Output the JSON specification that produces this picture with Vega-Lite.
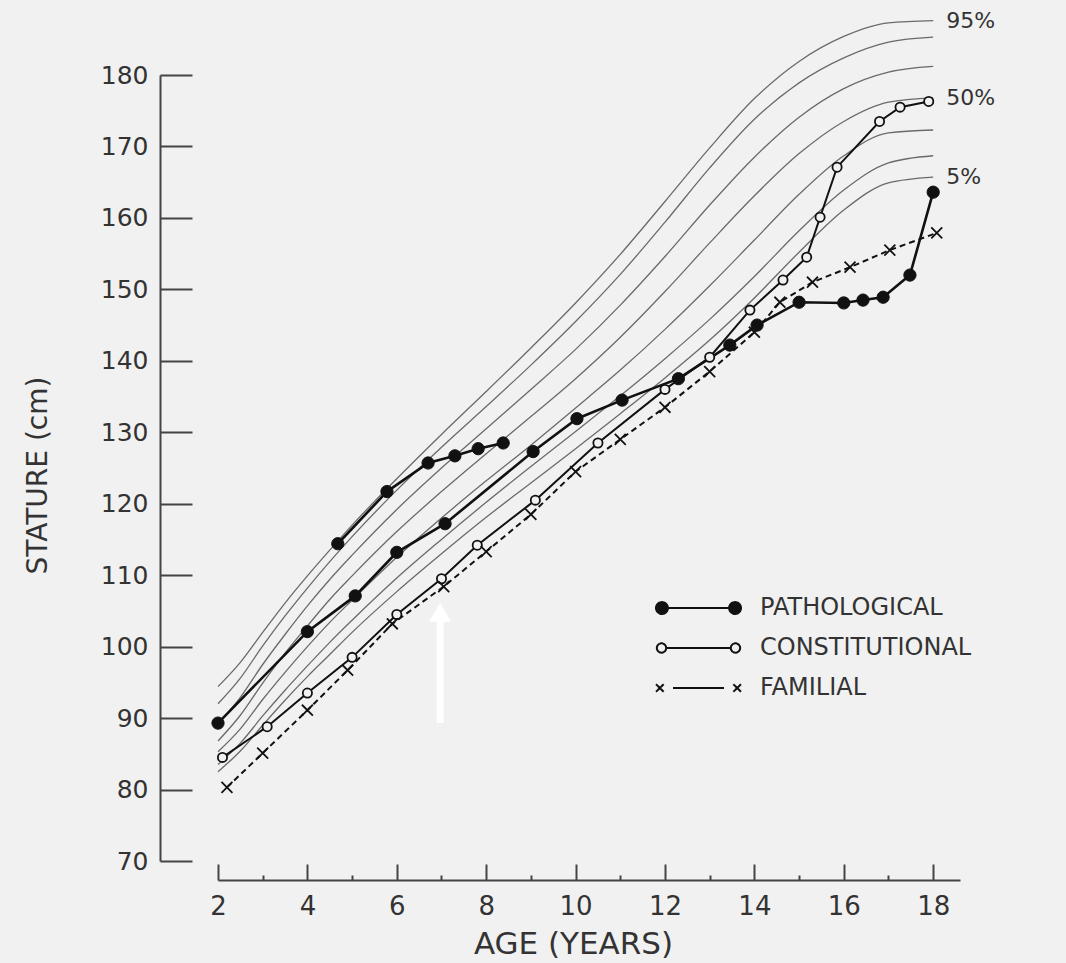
{
  "$schema": "https://vega.github.io/schema/vega-lite/v6.json",
  "width": 742,
  "height": 786,
  "autosize": "none",
  "padding": {"left": 218, "top": 75, "right": 106, "bottom": 102},
  "background": "#f1f1f1",
  "config": {
    "view": {"stroke": null},
    "font": "DejaVu Sans"
  },
  "datasets": {
    "pct": [
      {"pct": "95%", "age": 2, "cm": 94.4}, {"pct": "95%", "age": 2.5, "cm": 97.8}, {"pct": "95%", "age": 3, "cm": 102.0}, {"pct": "95%", "age": 3.5, "cm": 106.1}, {"pct": "95%", "age": 4, "cm": 109.9}, {"pct": "95%", "age": 4.5, "cm": 113.5}, {"pct": "95%", "age": 5, "cm": 117.0}, {"pct": "95%", "age": 6, "cm": 123.5}, {"pct": "95%", "age": 7, "cm": 129.7}, {"pct": "95%", "age": 8, "cm": 135.7}, {"pct": "95%", "age": 9, "cm": 141.8}, {"pct": "95%", "age": 10, "cm": 148.1}, {"pct": "95%", "age": 11, "cm": 154.9}, {"pct": "95%", "age": 12, "cm": 162.3}, {"pct": "95%", "age": 13, "cm": 169.8}, {"pct": "95%", "age": 14, "cm": 176.7}, {"pct": "95%", "age": 15, "cm": 181.9}, {"pct": "95%", "age": 16, "cm": 185.4}, {"pct": "95%", "age": 17, "cm": 187.3}, {"pct": "95%", "age": 18, "cm": 187.6},
      {"pct": "90%", "age": 2, "cm": 92.0}, {"pct": "90%", "age": 2.5, "cm": 95.6}, {"pct": "90%", "age": 3, "cm": 100.1}, {"pct": "90%", "age": 3.5, "cm": 104.3}, {"pct": "90%", "age": 4, "cm": 108.2}, {"pct": "90%", "age": 4.5, "cm": 111.9}, {"pct": "90%", "age": 5, "cm": 115.4}, {"pct": "90%", "age": 6, "cm": 121.9}, {"pct": "90%", "age": 7, "cm": 127.9}, {"pct": "90%", "age": 8, "cm": 133.6}, {"pct": "90%", "age": 9, "cm": 139.4}, {"pct": "90%", "age": 10, "cm": 145.5}, {"pct": "90%", "age": 11, "cm": 152.1}, {"pct": "90%", "age": 12, "cm": 159.4}, {"pct": "90%", "age": 13, "cm": 167.0}, {"pct": "90%", "age": 14, "cm": 173.8}, {"pct": "90%", "age": 15, "cm": 178.9}, {"pct": "90%", "age": 16, "cm": 182.4}, {"pct": "90%", "age": 17, "cm": 184.6}, {"pct": "90%", "age": 18, "cm": 185.3},
      {"pct": "75%", "age": 2, "cm": 89.2}, {"pct": "75%", "age": 2.5, "cm": 92.9}, {"pct": "75%", "age": 3, "cm": 97.5}, {"pct": "75%", "age": 3.5, "cm": 101.7}, {"pct": "75%", "age": 4, "cm": 105.7}, {"pct": "75%", "age": 4.5, "cm": 109.4}, {"pct": "75%", "age": 5, "cm": 112.8}, {"pct": "75%", "age": 6, "cm": 119.2}, {"pct": "75%", "age": 7, "cm": 125.0}, {"pct": "75%", "age": 8, "cm": 130.5}, {"pct": "75%", "age": 9, "cm": 136.0}, {"pct": "75%", "age": 10, "cm": 141.6}, {"pct": "75%", "age": 11, "cm": 147.8}, {"pct": "75%", "age": 12, "cm": 154.6}, {"pct": "75%", "age": 13, "cm": 161.8}, {"pct": "75%", "age": 14, "cm": 168.5}, {"pct": "75%", "age": 15, "cm": 174.1}, {"pct": "75%", "age": 16, "cm": 178.1}, {"pct": "75%", "age": 17, "cm": 180.4}, {"pct": "75%", "age": 18, "cm": 181.2},
      {"pct": "50%", "age": 2, "cm": 86.8}, {"pct": "50%", "age": 2.5, "cm": 90.4}, {"pct": "50%", "age": 3, "cm": 94.9}, {"pct": "50%", "age": 3.5, "cm": 99.1}, {"pct": "50%", "age": 4, "cm": 102.9}, {"pct": "50%", "age": 4.5, "cm": 106.6}, {"pct": "50%", "age": 5, "cm": 109.9}, {"pct": "50%", "age": 6, "cm": 116.1}, {"pct": "50%", "age": 7, "cm": 121.7}, {"pct": "50%", "age": 8, "cm": 127.0}, {"pct": "50%", "age": 9, "cm": 132.2}, {"pct": "50%", "age": 10, "cm": 137.5}, {"pct": "50%", "age": 11, "cm": 143.3}, {"pct": "50%", "age": 12, "cm": 149.7}, {"pct": "50%", "age": 13, "cm": 156.5}, {"pct": "50%", "age": 14, "cm": 163.1}, {"pct": "50%", "age": 15, "cm": 169.0}, {"pct": "50%", "age": 16, "cm": 173.5}, {"pct": "50%", "age": 17, "cm": 176.2}, {"pct": "50%", "age": 18, "cm": 176.8},
      {"pct": "25%", "age": 2, "cm": 85.3}, {"pct": "25%", "age": 2.5, "cm": 88.5}, {"pct": "25%", "age": 3, "cm": 92.6}, {"pct": "25%", "age": 3.5, "cm": 96.4}, {"pct": "25%", "age": 4, "cm": 100.0}, {"pct": "25%", "age": 4.5, "cm": 103.4}, {"pct": "25%", "age": 5, "cm": 106.5}, {"pct": "25%", "age": 6, "cm": 112.5}, {"pct": "25%", "age": 7, "cm": 118.0}, {"pct": "25%", "age": 8, "cm": 123.2}, {"pct": "25%", "age": 9, "cm": 128.2}, {"pct": "25%", "age": 10, "cm": 133.4}, {"pct": "25%", "age": 11, "cm": 138.7}, {"pct": "25%", "age": 12, "cm": 144.4}, {"pct": "25%", "age": 13, "cm": 150.5}, {"pct": "25%", "age": 14, "cm": 156.9}, {"pct": "25%", "age": 15, "cm": 163.3}, {"pct": "25%", "age": 16, "cm": 168.7}, {"pct": "25%", "age": 17, "cm": 171.9}, {"pct": "25%", "age": 18, "cm": 172.3},
      {"pct": "10%", "age": 2, "cm": 83.5}, {"pct": "10%", "age": 2.5, "cm": 86.5}, {"pct": "10%", "age": 3, "cm": 90.3}, {"pct": "10%", "age": 3.5, "cm": 93.9}, {"pct": "10%", "age": 4, "cm": 97.3}, {"pct": "10%", "age": 4.5, "cm": 100.6}, {"pct": "10%", "age": 5, "cm": 103.7}, {"pct": "10%", "age": 6, "cm": 109.6}, {"pct": "10%", "age": 7, "cm": 115.0}, {"pct": "10%", "age": 8, "cm": 120.2}, {"pct": "10%", "age": 9, "cm": 125.2}, {"pct": "10%", "age": 10, "cm": 130.1}, {"pct": "10%", "age": 11, "cm": 135.1}, {"pct": "10%", "age": 12, "cm": 140.3}, {"pct": "10%", "age": 13, "cm": 145.8}, {"pct": "10%", "age": 14, "cm": 151.8}, {"pct": "10%", "age": 15, "cm": 158.2}, {"pct": "10%", "age": 16, "cm": 163.9}, {"pct": "10%", "age": 17, "cm": 167.7}, {"pct": "10%", "age": 18, "cm": 168.7},
      {"pct": "5%", "age": 2, "cm": 82.5}, {"pct": "5%", "age": 2.5, "cm": 85.4}, {"pct": "5%", "age": 3, "cm": 89.0}, {"pct": "5%", "age": 3.5, "cm": 92.5}, {"pct": "5%", "age": 4, "cm": 95.8}, {"pct": "5%", "age": 4.5, "cm": 98.9}, {"pct": "5%", "age": 5, "cm": 102.0}, {"pct": "5%", "age": 6, "cm": 107.7}, {"pct": "5%", "age": 7, "cm": 113.0}, {"pct": "5%", "age": 8, "cm": 118.1}, {"pct": "5%", "age": 9, "cm": 122.9}, {"pct": "5%", "age": 10, "cm": 127.7}, {"pct": "5%", "age": 11, "cm": 132.6}, {"pct": "5%", "age": 12, "cm": 137.6}, {"pct": "5%", "age": 13, "cm": 142.9}, {"pct": "5%", "age": 14, "cm": 148.8}, {"pct": "5%", "age": 15, "cm": 155.2}, {"pct": "5%", "age": 16, "cm": 161.1}, {"pct": "5%", "age": 17, "cm": 164.9}, {"pct": "5%", "age": 18, "cm": 165.7}
    ],
    "patients": [
      {"group": "PATHOLOGICAL", "patient": "P2", "age": 2.0, "cm": 89.3},
      {"group": "PATHOLOGICAL", "patient": "P2", "age": 4.0, "cm": 102.1},
      {"group": "PATHOLOGICAL", "patient": "P2", "age": 5.07, "cm": 107.1},
      {"group": "PATHOLOGICAL", "patient": "P2", "age": 6.0, "cm": 113.2},
      {"group": "PATHOLOGICAL", "patient": "P2", "age": 7.08, "cm": 117.2},
      {"group": "PATHOLOGICAL", "patient": "P2", "age": 9.05, "cm": 127.3},
      {"group": "PATHOLOGICAL", "patient": "P2", "age": 10.03, "cm": 131.9},
      {"group": "PATHOLOGICAL", "patient": "P2", "age": 11.04, "cm": 134.5},
      {"group": "PATHOLOGICAL", "patient": "P2", "age": 12.3, "cm": 137.5},
      {"group": "PATHOLOGICAL", "patient": "P2", "age": 13.45, "cm": 142.2},
      {"group": "PATHOLOGICAL", "patient": "P2", "age": 14.06, "cm": 145.0},
      {"group": "PATHOLOGICAL", "patient": "P2", "age": 15.0, "cm": 148.2},
      {"group": "PATHOLOGICAL", "patient": "P2", "age": 16.0, "cm": 148.1},
      {"group": "PATHOLOGICAL", "patient": "P2", "age": 16.43, "cm": 148.5},
      {"group": "PATHOLOGICAL", "patient": "P2", "age": 16.88, "cm": 148.9},
      {"group": "PATHOLOGICAL", "patient": "P2", "age": 17.48, "cm": 152.0},
      {"group": "PATHOLOGICAL", "patient": "P2", "age": 18.0, "cm": 163.6},
      {"group": "PATHOLOGICAL", "patient": "P1", "age": 4.68, "cm": 114.4},
      {"group": "PATHOLOGICAL", "patient": "P1", "age": 5.78, "cm": 121.7},
      {"group": "PATHOLOGICAL", "patient": "P1", "age": 6.7, "cm": 125.7},
      {"group": "PATHOLOGICAL", "patient": "P1", "age": 7.3, "cm": 126.7},
      {"group": "PATHOLOGICAL", "patient": "P1", "age": 7.82, "cm": 127.7},
      {"group": "PATHOLOGICAL", "patient": "P1", "age": 8.38, "cm": 128.5},
      {"group": "CONSTITUTIONAL", "patient": "C", "age": 2.1, "cm": 84.5},
      {"group": "CONSTITUTIONAL", "patient": "C", "age": 3.1, "cm": 88.8},
      {"group": "CONSTITUTIONAL", "patient": "C", "age": 4.0, "cm": 93.5},
      {"group": "CONSTITUTIONAL", "patient": "C", "age": 5.0, "cm": 98.5},
      {"group": "CONSTITUTIONAL", "patient": "C", "age": 6.0, "cm": 104.5},
      {"group": "CONSTITUTIONAL", "patient": "C", "age": 7.0, "cm": 109.5},
      {"group": "CONSTITUTIONAL", "patient": "C", "age": 7.8, "cm": 114.2},
      {"group": "CONSTITUTIONAL", "patient": "C", "age": 9.1, "cm": 120.5},
      {"group": "CONSTITUTIONAL", "patient": "C", "age": 10.5, "cm": 128.5},
      {"group": "CONSTITUTIONAL", "patient": "C", "age": 12.0, "cm": 136.0},
      {"group": "CONSTITUTIONAL", "patient": "C", "age": 13.0, "cm": 140.5},
      {"group": "CONSTITUTIONAL", "patient": "C", "age": 13.9, "cm": 147.1},
      {"group": "CONSTITUTIONAL", "patient": "C", "age": 14.64, "cm": 151.3},
      {"group": "CONSTITUTIONAL", "patient": "C", "age": 15.17, "cm": 154.5},
      {"group": "CONSTITUTIONAL", "patient": "C", "age": 15.47, "cm": 160.1},
      {"group": "CONSTITUTIONAL", "patient": "C", "age": 15.85, "cm": 167.1},
      {"group": "CONSTITUTIONAL", "patient": "C", "age": 16.8, "cm": 173.5},
      {"group": "CONSTITUTIONAL", "patient": "C", "age": 17.26, "cm": 175.5},
      {"group": "CONSTITUTIONAL", "patient": "C", "age": 17.9, "cm": 176.3},
      {"group": "FAMILIAL", "patient": "F", "age": 2.2, "cm": 80.3},
      {"group": "FAMILIAL", "patient": "F", "age": 3.0, "cm": 85.1},
      {"group": "FAMILIAL", "patient": "F", "age": 4.0, "cm": 91.1},
      {"group": "FAMILIAL", "patient": "F", "age": 4.9, "cm": 96.7},
      {"group": "FAMILIAL", "patient": "F", "age": 5.9, "cm": 103.2},
      {"group": "FAMILIAL", "patient": "F", "age": 7.05, "cm": 108.4},
      {"group": "FAMILIAL", "patient": "F", "age": 8.0, "cm": 113.3},
      {"group": "FAMILIAL", "patient": "F", "age": 9.0, "cm": 118.5},
      {"group": "FAMILIAL", "patient": "F", "age": 10.0, "cm": 124.5},
      {"group": "FAMILIAL", "patient": "F", "age": 11.0, "cm": 129.0},
      {"group": "FAMILIAL", "patient": "F", "age": 12.0, "cm": 133.5},
      {"group": "FAMILIAL", "patient": "F", "age": 13.0, "cm": 138.5},
      {"group": "FAMILIAL", "patient": "F", "age": 14.0, "cm": 144.0},
      {"group": "FAMILIAL", "patient": "F", "age": 14.57, "cm": 148.2},
      {"group": "FAMILIAL", "patient": "F", "age": 15.3, "cm": 151.0},
      {"group": "FAMILIAL", "patient": "F", "age": 16.14, "cm": 153.1},
      {"group": "FAMILIAL", "patient": "F", "age": 17.03, "cm": 155.5},
      {"group": "FAMILIAL", "patient": "F", "age": 18.08, "cm": 157.9}
    ],
    "arrow": [
      {"age": 6.97, "cm": 89.3, "cm2": 104.0, "tip": 104.8}
    ]
  },
  "encoding": {
    "x": {
      "field": "age", "type": "quantitative",
      "scale": {"domain": [2, 18.6], "nice": false, "zero": false},
      "axis": {
        "offset": 19,
        "values": [2, 3, 4, 5, 6, 7, 8, 9, 10, 11, 12, 13, 14, 15, 16, 17, 18],
        "labelExpr": "datum.value % 2 === 0 ? datum.label : ''",
        "labelFlush": false,
        "grid": false,
        "tickSize": {"condition": {"test": "datum.value % 2 === 1", "value": -5}, "value": -16},
        "tickWidth": 2, "tickColor": "#444",
        "domainColor": "#444", "domainWidth": 2,
        "labelFontSize": 26, "labelColor": "#333", "labelPadding": 29, "labelFont": "DejaVu Sans",
        "title": "AGE (YEARS)", "titleFontSize": 31, "titleFontWeight": "normal", "titleColor": "#333",
        "titleX": 355, "titleY": 64, "titleAnchor": "middle", "titleAlign": "center", "titleBaseline": "middle"
      }
    },
    "y": {
      "field": "cm", "type": "quantitative",
      "scale": {"domain": [70, 180], "nice": false, "zero": false},
      "axis": {
        "offset": 58,
        "values": [70, 80, 90, 100, 110, 120, 130, 140, 150, 160, 170, 180],
        "labelFlush": false,
        "grid": false,
        "tickSize": -32, "tickWidth": 2, "tickColor": "#444",
        "domainColor": "#444", "domainWidth": 2,
        "labelFontSize": 25, "labelColor": "#333", "labelPadding": 44, "labelFont": "DejaVu Sans",
        "title": "STATURE (cm)", "titleFontSize": 28, "titleFontWeight": "normal", "titleColor": "#333",
        "titleX": -122, "titleY": 400, "titleAngle": -90, "titleAlign": "center", "titleBaseline": "middle"
      }
    }
  },
  "layer": [
    {
      "data": {"name": "pct"},
      "mark": {"type": "line", "interpolate": "monotone", "stroke": "#6a6a6a", "strokeWidth": 1.3},
      "encoding": {"detail": {"field": "pct"}}
    },
    {
      "data": {"name": "pct"},
      "transform": [{"filter": "datum.age === 18 && (datum.pct === '95%' || datum.pct === '50%' || datum.pct === '5%')"}],
      "mark": {"type": "text", "align": "left", "baseline": "middle", "dx": 13, "fontSize": 22, "color": "#333", "font": "DejaVu Sans"},
      "encoding": {"text": {"field": "pct"}}
    },
    {
      "data": {"name": "patients"},
      "transform": [{"filter": "datum.group === 'PATHOLOGICAL'"}],
      "mark": {"type": "line", "strokeWidth": 2.6},
      "encoding": {
        "detail": {"field": "patient"},
        "color": {
          "field": "group", "type": "nominal",
          "scale": {"domain": ["PATHOLOGICAL", "CONSTITUTIONAL", "FAMILIAL"], "range": ["#111", "#111", "#111"]},
          "legend": {
            "orient": "none", "legendX": 437, "legendY": 513,
            "title": null, "padding": 0,
            "symbolSize": 7225, "symbolStrokeWidth": 2,
            "labelFontSize": 24, "labelColor": "#333", "labelFont": "DejaVu Sans", "labelOffset": 18, "labelLimit": 500,
            "clipHeight": 40,
            "rowPadding": 0,
            "encode": {
              "symbols": {
                "update": {
                  "shape": {"signal": "datum.value === 'PATHOLOGICAL' ? 'M-0.86,0L0.86,0M-0.72,0A0.14,0.14 0 1,1 -1,0A0.14,0.14 0 1,1 -0.72,0ZM1,0A0.14,0.14 0 1,1 0.72,0A0.14,0.14 0 1,1 1,0Z' : datum.value === 'CONSTITUTIONAL' ? 'M-0.76,0L0.76,0M-0.76,0A0.11,0.11 0 1,1 -0.98,0A0.11,0.11 0 1,1 -0.76,0ZM0.98,0A0.11,0.11 0 1,1 0.76,0A0.11,0.11 0 1,1 0.98,0Z' : 'M-1,-0.09L-0.82,0.09M-1,0.09L-0.82,-0.09M-0.6,0L0.6,0M0.82,-0.09L1,0.09M0.82,0.09L1,-0.09'"},
                  "size": {"value": 7225},
                  "fill": {"signal": "datum.value === 'PATHOLOGICAL' ? '#111' : datum.value === 'CONSTITUTIONAL' ? '#f1f1f1' : 'transparent'"},
                  "stroke": {"value": "#111"},
                  "strokeDash": {"value": [1, 0]},
                  "strokeWidth": {"value": 2},
                  "opacity": {"value": 1}
                }
              }
            }
          }
        }
      }
    },
    {
      "data": {"name": "patients"},
      "transform": [{"filter": "datum.group === 'CONSTITUTIONAL'"}],
      "mark": {"type": "line", "stroke": "#111", "strokeWidth": 2},
      "encoding": {}
    },
    {
      "data": {"name": "patients"},
      "transform": [{"filter": "datum.group === 'FAMILIAL'"}],
      "mark": {"type": "line", "stroke": "#111", "strokeWidth": 2, "strokeDash": [6, 4]},
      "encoding": {}
    },
    {
      "data": {"name": "patients"},
      "transform": [{"filter": "datum.group === 'PATHOLOGICAL'"}],
      "mark": {"type": "point", "shape": "circle", "filled": true, "fill": "#111", "stroke": "#111", "strokeWidth": 1, "opacity": 1, "size": 150},
      "encoding": {}
    },
    {
      "data": {"name": "patients"},
      "transform": [{"filter": "datum.group === 'CONSTITUTIONAL'"}],
      "mark": {"type": "point", "shape": "circle", "filled": false, "fill": "#f1f1f1", "stroke": "#111", "strokeWidth": 1.8, "opacity": 1, "size": 85},
      "encoding": {}
    },
    {
      "data": {"name": "patients"},
      "transform": [{"filter": "datum.group === 'FAMILIAL'"}],
      "mark": {"type": "point", "shape": "M-1,-1L1,1M-1,1L1,-1", "filled": false, "stroke": "#111", "strokeWidth": 1.8, "opacity": 1, "size": 120},
      "encoding": {}
    },
    {
      "data": {"name": "arrow"},
      "mark": {"type": "rule", "stroke": "#ffffff", "strokeWidth": 7},
      "encoding": {"y2": {"field": "cm2"}}
    },
    {
      "data": {"name": "arrow"},
      "mark": {"type": "point", "shape": "triangle-up", "filled": true, "fill": "#ffffff", "opacity": 1, "size": 480},
      "encoding": {"y": {"field": "tip", "type": "quantitative"}}
    }
  ]
}
